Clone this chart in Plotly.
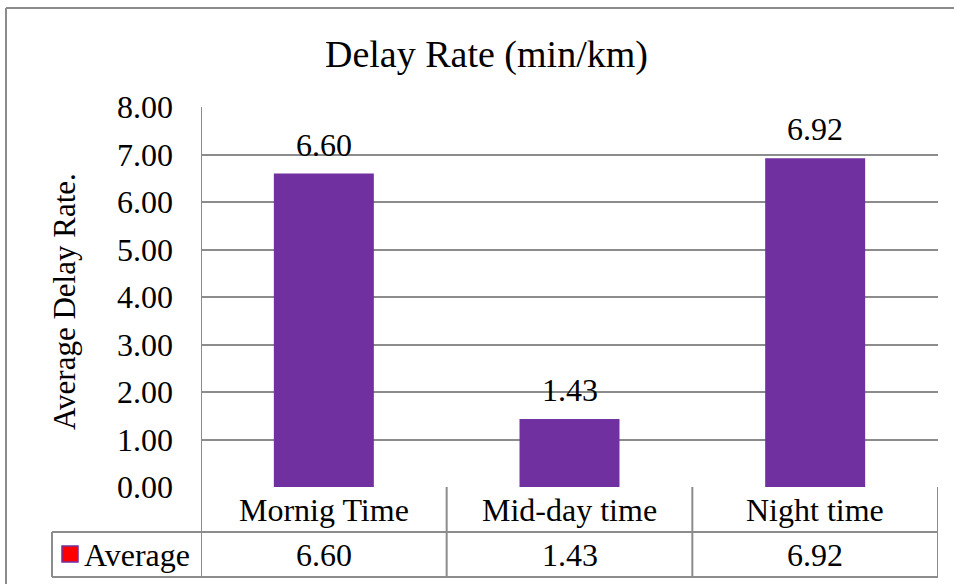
import plotly.graph_objects as go

# Chart data
categories = ["Mornig Time", "Mid-day time", "Night time"]
average_delay = [6.60, 1.43, 6.92]
series_name = "Average"
y_ticks = [0, 1, 2, 3, 4, 5, 6, 7, 8]

W, H = 954, 584
FONT = "Liberation Serif, Times New Roman, serif"
BAR_COLOR = "#7030A0"
LINE_COLOR = "#8c8c8c"
TEXT_SIZE = 32

# Pixel-based layout helpers (page is 954x584 with no margins)
def px(x):
    return x / W

def py(y):
    return 1 - y / H

PLOT_L, PLOT_R = 201, 938
PLOT_T, PLOT_B = 107, 487
ROW1_B, ROW2_B = 532, 577
LEGEND_L = 52

fig = go.Figure()
fig.add_trace(go.Bar(
    x=list(range(len(categories))),
    y=average_delay,
    width=0.407,
    marker=dict(color=BAR_COLOR, line=dict(width=0)),
    name=series_name,
    showlegend=False,
    hoverinfo="skip",
))

shapes = []
annotations = []

def hline(x0, x1, y, xref="paper"):
    shapes.append(dict(type="line", xref=xref, yref="paper",
                       x0=x0, x1=x1, y0=py(y), y1=py(y),
                       line=dict(color=LINE_COLOR, width=2)))

def vline(x, y0, y1, xref="paper"):
    shapes.append(dict(type="line", xref=xref, yref="paper",
                       x0=x, x1=x, y0=py(y0), y1=py(y1),
                       line=dict(color=LINE_COLOR, width=2)))

# Outer chart frame
vline(px(6), 8, H + 10)
hline(px(6), 1.05, 8)

# Value axis line running down through the data table
vline(-0.5, PLOT_T, ROW2_B, xref="x")
# Data table grid
for i in range(len(categories)):
    vline(i + 0.5, PLOT_B, ROW2_B, xref="x")
hline(px(LEGEND_L), px(PLOT_R), ROW1_B)
hline(px(LEGEND_L), px(PLOT_R), ROW2_B)
vline(px(LEGEND_L), ROW1_B, ROW2_B)

# Legend key inside the table
shapes.append(dict(type="rect", xref="paper", yref="paper",
                   x0=px(62), x1=px(78), y0=py(562), y1=py(546),
                   fillcolor="#FF0000", line=dict(color=BAR_COLOR, width=1.5)))
annotations.append(dict(text=series_name, xref="paper", yref="paper",
                        x=px(82), y=py(555), xanchor="left", yanchor="middle",
                        showarrow=False, font=dict(family=FONT, size=TEXT_SIZE, color="black")))

row1_mid = (PLOT_B + ROW1_B) / 2
row2_mid = (ROW1_B + ROW2_B) / 2
for i, (cat, val) in enumerate(zip(categories, average_delay)):
    # Category label and value in the table
    annotations.append(dict(text=cat, xref="x", yref="paper", x=i, y=py(row1_mid),
                            xanchor="center", yanchor="middle", showarrow=False,
                            font=dict(family=FONT, size=TEXT_SIZE, color="black")))
    annotations.append(dict(text=f"{val:.2f}", xref="x", yref="paper", x=i, y=py(row2_mid),
                            xanchor="center", yanchor="middle", showarrow=False,
                            font=dict(family=FONT, size=TEXT_SIZE, color="black")))
    # Data label above each bar
    annotations.append(dict(text=f"{val:.2f}", xref="x", yref="y", x=i, y=val,
                            xanchor="center", yanchor="middle", yshift=29, showarrow=False,
                            font=dict(family=FONT, size=TEXT_SIZE, color="black")))

# Title and value axis title
annotations.append(dict(text="Delay Rate (min/km)", xref="paper", yref="paper",
                        x=px(487), y=py(55), xanchor="center", yanchor="middle",
                        showarrow=False, font=dict(family=FONT, size=38, color="black")))
annotations.append(dict(text="Average Delay Rate.", xref="paper", yref="paper",
                        x=px(64), y=py(302), xanchor="center", yanchor="middle",
                        textangle=-90, showarrow=False,
                        font=dict(family=FONT, size=31, color="black")))

fig.update_layout(
    width=W, height=H,
    margin=dict(l=0, r=0, t=0, b=0, autoexpand=False),
    paper_bgcolor="white", plot_bgcolor="white",
    shapes=shapes, annotations=annotations,
    xaxis=dict(domain=[px(PLOT_L), px(PLOT_R)], range=[-0.5, 2.5],
               showticklabels=False, showgrid=False, zeroline=False,
               showline=False, ticks="", fixedrange=True, automargin=False),
    yaxis=dict(domain=[py(PLOT_B), py(PLOT_T)], range=[0, 8],
               tickvals=y_ticks, tickformat=".2f",
               showgrid=True, gridcolor=LINE_COLOR, gridwidth=2,
               zeroline=False, showline=False, ticks="",
               ticklabelstandoff=27, automargin=False,
               tickfont=dict(family=FONT, size=TEXT_SIZE, color="black"),
               fixedrange=True),
    bargap=0.593,
)

fig.write_html("out.html")
